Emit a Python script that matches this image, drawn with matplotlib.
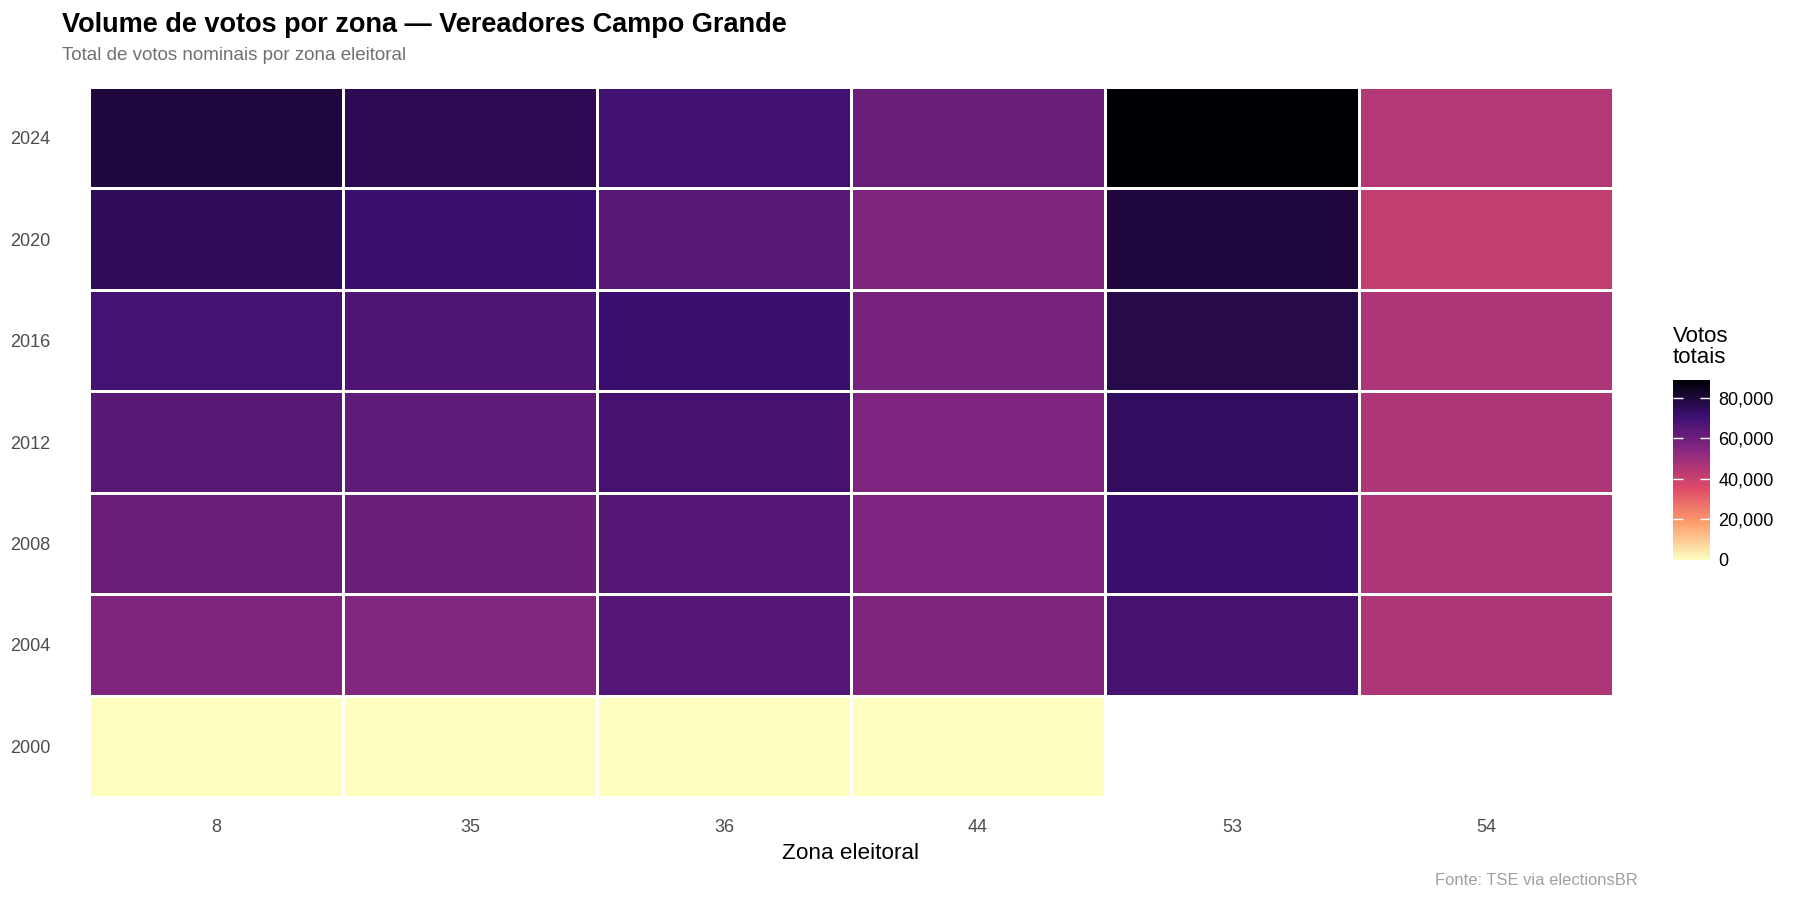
import numpy as np
import matplotlib
matplotlib.use("Agg")
from matplotlib import pyplot as plt
from matplotlib.colors import LinearSegmentedColormap

plt.rcParams['font.family'] = ['Liberation Sans', 'DejaVu Sans']

# data: total nominal votes per zone and year
zonas = ['8', '35', '36', '44', '53', '54']
anos = ['2000', '2004', '2008', '2012', '2016', '2020', '2024']
votos_2000 = [0, 0, 0, 0, np.nan, np.nan]
votos_2004 = [56000, 55500, 65500, 56000, 68500, 46000]
votos_2008 = [61000, 61000, 65500, 57000, 71500, 46500]
votos_2012 = [65000, 63000, 69000, 57000, 74000, 46000]
votos_2016 = [69500, 67000, 71000, 58000, 77500, 46500]
votos_2020 = [75000, 71000, 65000, 56000, 79000, 42000]
votos_2024 = [79000, 75600, 70000, 61000, 89000, 45000]

grid = np.ma.masked_invalid(np.array([votos_2000, votos_2004, votos_2008, votos_2012,
                                      votos_2016, votos_2020, votos_2024], dtype=float))

# ggplot-like magma (6 anchor colours, reversed)
cmap = LinearSegmentedColormap.from_list(
    'magma6', ['#FCFDBF', '#FE9F6D', '#DE4968', '#8C2981', '#3B0F70', '#000004'])

fig = plt.figure(figsize=(18, 9), dpi=100)
ax = fig.add_axes([0.0494, 0.1144, 0.8467, 0.7889])
mesh = ax.pcolormesh(np.arange(len(zonas) + 1), np.arange(len(anos) + 1), grid,
                     cmap=cmap, vmin=0, vmax=np.nanmax(grid),
                     edgecolors='white', linewidth=2)
ax.set_xlim(0, len(zonas))
ax.set_ylim(0, len(anos))
ax.set_xticks(np.arange(len(zonas)) + 0.5)
ax.set_xticklabels(zonas)
ax.set_yticks(np.arange(len(anos)) + 0.5)
ax.set_yticklabels(anos)
ax.tick_params(length=0, labelsize=13, labelcolor='#4D4D4D', pad=16)
ax.tick_params(axis='y', pad=27.7)
for s in ax.spines.values():
    s.set_visible(False)
ax.set_xlabel('Zona eleitoral', fontsize=16.2, color='black', labelpad=4.5)

fig.text(0.0345, 0.964, 'Volume de votos por zona \u2014 Vereadores Campo Grande',
         fontsize=19.5, fontweight='bold', va='baseline', ha='left')
fig.text(0.0345, 0.933, 'Total de votos nominais por zona eleitoral',
         fontsize=13.5, color='#707070', va='baseline', ha='left')
fig.text(0.910, 0.022, 'Fonte: TSE via electionsBR', fontsize=11.9,
         color='#A0A0A0', ha='right', va='center')

cax = fig.add_axes([0.9294, 0.378, 0.0206, 0.200])
cb = fig.colorbar(mesh, cax=cax, ticks=[0, 20000, 40000, 60000, 80000])
cb.outline.set_visible(False)
cb.ax.set_yticklabels(['0', '20,000', '40,000', '60,000', '80,000'])
cb.ax.tick_params(direction='in', color='white', length=7, width=1,
                  left=True, right=True, labelsize=13, pad=6)
fig.text(0.9294, 0.638, 'Votos\ntotais', fontsize=16, ha='left', va='top',
         linespacing=1.0)

fig.savefig('out.png', dpi=100, facecolor='white')
